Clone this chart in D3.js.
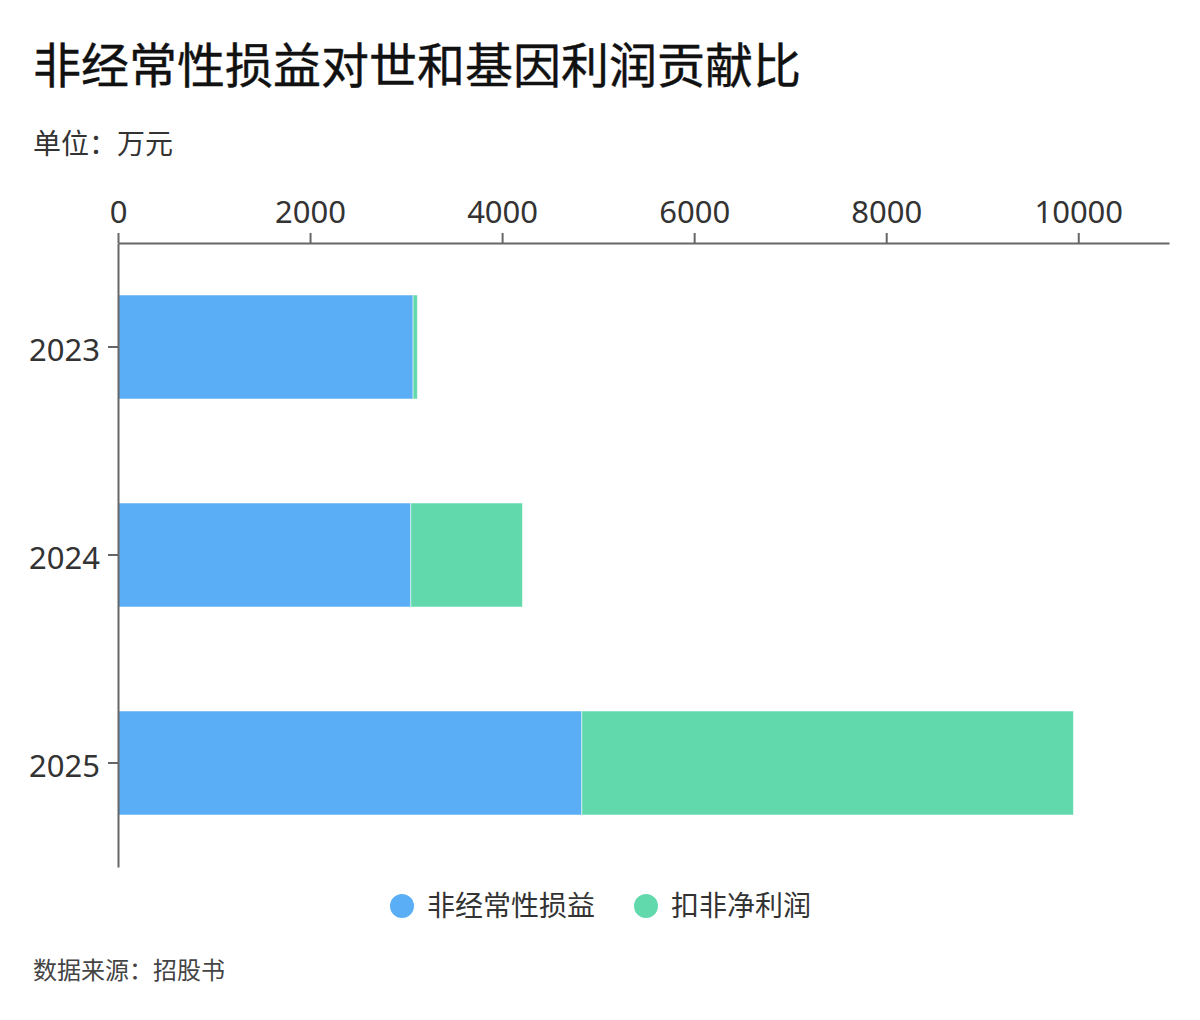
<!DOCTYPE html>
<html>
<head>
<meta charset="utf-8">
<script src="https://cdn.jsdelivr.net/npm/d3@7"></script>
<style>
  body { margin: 0; background: #fff; }
  text { font-family: "Noto Sans", "Noto Sans CJK SC", sans-serif; }
</style>
</head>
<body>
<div id="chart"></div>
<script>
// data (万元)
var years = ["2023", "2024", "2025"];
var nonRecurring = [3073, 3049, 4830];   // 非经常性损益
var deducted = [45, 1163, 5120];         // 扣非净利润
var seriesNames = ["非经常性损益", "扣非净利润"];
var colors = ["#5AAEF5", "#62D9AD"];

var width = 1200, height = 1020;
var margin = { left: 118, right: 31, top: 243, bottom: 153 };

var svg = d3.select("#chart").append("svg")
  .attr("width", width)
  .attr("height", height);

// title + unit
svg.append("text")
  .attr("x", 33).attr("y", 83)
  .attr("font-size", 48)
  .attr("font-weight", 400)
  .attr("fill", "#111")
  .attr("stroke", "#111")
  .attr("stroke-width", 0.4)
  .style("font-family", "'Noto Sans CJK SC', sans-serif")
  .text("非经常性损益对世和基因利润贡献比");

svg.append("text")
  .attr("x", 33).attr("y", 154)
  .attr("font-size", 28)
  .attr("fill", "#333")
  .style("font-family", "'Noto Sans CJK SC', sans-serif")
  .text("单位：万元");

var rows = years.map(function(y, i) {
  return { year: y, a: nonRecurring[i], b: deducted[i] };
});
var stacked = d3.stack().keys(["a", "b"])(rows);

var maxTotal = d3.max(rows, function(d) { return d.a + d.b; });

var x = d3.scaleLinear()
  .domain([0, maxTotal * 1.1])
  .range([margin.left, width - margin.right]);

var y = d3.scaleBand()
  .domain(years)
  .range([margin.top, height - margin.bottom])
  .paddingInner(0.5)
  .paddingOuter(0.25);

var g = svg.append("g");

g.selectAll("g.series")
  .data(stacked)
  .enter().append("g")
  .attr("class", "series")
  .attr("fill", function(d, i) { return colors[i]; })
  .selectAll("rect")
  .data(function(d) { return d; })
  .enter().append("rect")
  .attr("x", function(d) { return x(d[0]); })
  .attr("y", function(d) { return y(d.data.year); })
  .attr("width", function(d) { return x(d[1]) - x(d[0]); })
  .attr("height", y.bandwidth())
  .attr("stroke", "rgba(255,255,255,0.5)")
  .attr("stroke-width", 1);

// axes
var xAxis = svg.append("g")
  .attr("transform", "translate(0," + margin.top + ")")
  .call(d3.axisTop(x).tickValues([0, 2000, 4000, 6000, 8000, 10000])
    .tickFormat(d3.format("d")).tickSizeInner(10).tickSizeOuter(0).tickPadding(10));

var yAxis = svg.append("g")
  .attr("transform", "translate(" + margin.left + ",0)")
  .call(d3.axisLeft(y).tickSizeInner(10).tickSizeOuter(0).tickPadding(8));

[xAxis, yAxis].forEach(function(ax) {
  ax.select(".domain").attr("stroke", "#666").attr("stroke-width", 2);
  ax.selectAll(".tick line").attr("stroke", "#666").attr("stroke-width", 2);
  ax.selectAll(".tick text")
    .attr("font-size", 31)
    .attr("fill", "#333")
    .style("font-family", "'Noto Sans', sans-serif");
});
yAxis.selectAll(".tick text").attr("dy", "0.45em");

// legend
var legend = svg.append("g").attr("transform", "translate(0,906)");
var items = [{ cx: 402, tx: 427 }, { cx: 646, tx: 671 }];
seriesNames.forEach(function(name, i) {
  legend.append("circle")
    .attr("cx", items[i].cx).attr("cy", 0).attr("r", 12)
    .attr("fill", colors[i]);
  legend.append("text")
    .attr("x", items[i].tx).attr("y", 0)
    .attr("dy", "0.35em")
    .attr("font-size", 28)
    .attr("fill", "#333")
    .style("font-family", "'Noto Sans CJK SC', sans-serif")
    .text(name);
});

// source
svg.append("text")
  .attr("x", 33).attr("y", 979)
  .attr("font-size", 24)
  .attr("fill", "#444")
  .style("font-family", "'Noto Sans CJK SC', sans-serif")
  .text("数据来源：招股书");
</script>
</body>
</html>
